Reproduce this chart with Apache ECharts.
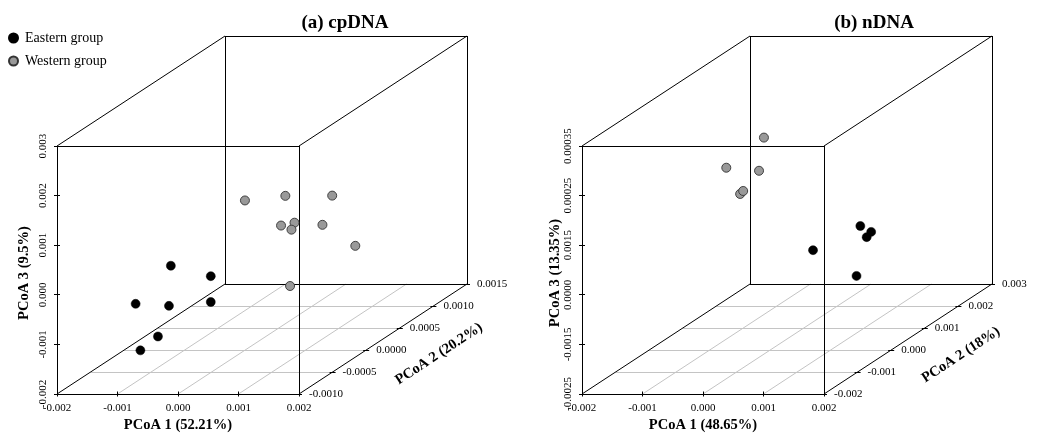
<!DOCTYPE html>
<html><head><meta charset="utf-8">
<script src="https://cdn.jsdelivr.net/npm/echarts@6/dist/echarts.min.js"></script>
<style>html,body{margin:0;padding:0;background:#fff}#c{width:1042px;height:436px}</style>
</head><body><div id="c"></div>
<script>
// ---------- Panel (a) cpDNA ----------
const aTitle = '(a) cpDNA';
const aAxisNames = ['PCoA 1 (52.21%)', 'PCoA 2 (20.2%)', 'PCoA 3 (9.5%)'];
const aXRange = [-0.002, 0.002];
const aYRange = [-0.001, 0.0015];
const aZRange = [-0.002, 0.003];
const aXTicks = ['-0.002', '-0.001', '0.000', '0.001', '0.002'];
const aYTicks = ['-0.0010', '-0.0005', '0.0000', '0.0005', '0.0010', '0.0015'];
const aZTicks = ['-0.002', '-0.001', '0.000', '0.001', '0.002', '0.003'];
// [PCoA1, PCoA2, PCoA3]
const aEastern = [
  [-0.00134, 0.0001, -0.00039],
  [-0.00068, 0.0001, -0.0006],
  [-0.0017, -0.0001, -0.00098],
  [-0.00126, 0.0, -0.00111],
  [-0.00068, 0.0001, -0.00112],
  [-0.00122, -0.0002, -0.00155],
  [-0.00151, -0.0002, -0.00183]
];
const aWestern = [
  [0.00044, -0.0004, 0.00137],
  [0.00133, -0.0006, 0.00164],
  [0.00166, -0.0002, 0.00129],
  [0.00137, -0.0007, 0.00113],
  [0.00137, -0.0005, 0.00101],
  [0.00132, -0.0005, 0.00087],
  [0.00161, -0.0003, 0.00079],
  [0.00182, 0.0, 0.0001],
  [0.00163, -0.0008, 0.0]
];

// ---------- Panel (b) nDNA ----------
const bTitle = '(b) nDNA';
const bAxisNames = ['PCoA 1 (48.65%)', 'PCoA 2 (18%)', 'PCoA 3 (13.35%)'];
const bXRange = [-0.002, 0.002];
const bYRange = [-0.002, 0.003];
const bZRange = [-0.0025, 0.0025];
const bXTicks = ['-0.002', '-0.001', '0.000', '0.001', '0.002'];
const bYTicks = ['-0.002', '-0.001', '0.000', '0.001', '0.002', '0.003'];
const bZTicks = ['-0.0025', '-0.0015', '0.0000', '0.0015', '0.00025', '0.00035'];
const bEastern = [
  [0.00149, 0.0, 0.0],
  [0.00178, -0.0002, -0.00003],
  [0.00165, -0.0001, -0.00018],
  [0.00093, -0.0004, -0.00031],
  [0.00176, -0.0006, -0.00074]
];
const bWestern = [
  [-0.00077, 0.0012, 0.00125],
  [-0.00117, 0.0008, 0.00082],
  [-0.00074, 0.001, 0.00067],
  [-0.00083, 0.0006, 0.00038],
  [-0.00078, 0.0006, 0.00044]
];

// ---------- layout (oblique projection) ----------
const FW = 242, FH = 248, OX = 168, OY = 110;
const DX = OX / FW, DY = OY / FH;
const SERIF = '"Liberation Serif", "Times New Roman", serif';

const panels = [
  {title: aTitle, names: aAxisNames, xr: aXRange, yr: aYRange, zr: aZRange,
   xt: aXTicks, yt: aYTicks, zt: aZTicks, east: aEastern, west: aWestern,
   left: 57, titleX: 340, zTitleOff: 33, yTitleOff: [56, 15]},
  {title: bTitle, names: bAxisNames, xr: bXRange, yr: bYRange, zr: bZRange,
   xt: bXTicks, yt: bYTicks, zt: bZTicks, east: bEastern, west: bWestern,
   left: 582, titleX: 869, zTitleOff: 27, yTitleOff: [53, 16]}
];

function proj(p, x, y, z) {
  const xn = (x - p.xr[0]) / (p.xr[1] - p.xr[0]);
  const yn = (y - p.yr[0]) / (p.yr[1] - p.yr[0]);
  const zn = (z - p.zr[0]) / (p.zr[1] - p.zr[0]);
  return [xn + yn * DX, zn + yn * DY];
}
function tickVals(r, labels) {
  return labels.map((_, i) => r[0] + i * (r[1] - r[0]) / (labels.length - 1));
}
function crisp(v) { return Math.round(v - 0.5) + 0.5; }

function frameSeries(p, idx) {
  return {
    type: 'custom', xAxisIndex: idx, yAxisIndex: idx, data: [0], silent: true, z: 1,
    clip: false,
    renderItem: function (params, api) {
      const P = (x, y, z) => api.coord(proj(p, x, y, z));
      const ch = [];
      const line = (a, b, color, w) => {
        let x1 = a[0], y1 = a[1], x2 = b[0], y2 = b[1];
        if (Math.abs(y1 - y2) < 0.01) { y1 = y2 = crisp(y1); }
        if (Math.abs(x1 - x2) < 0.01) { x1 = x2 = crisp(x1); }
        ch.push({type: 'line', shape: {x1, y1, x2, y2},
          style: {stroke: color, lineWidth: w}});
      };
      const text = (pt, str, opts) => ch.push({type: 'text', x: pt[0], y: pt[1],
        rotation: opts.rot || 0,
        style: {text: str, fill: '#000', font: opts.font,
          align: opts.align || 'center', verticalAlign: 'middle'}});
      const [x0, x1] = p.xr, [y0, y1] = p.yr, [z0, z1] = p.zr;
      const xv = tickVals(p.xr, p.xt), yv = tickVals(p.yr, p.yt), zv = tickVals(p.zr, p.zt);
      const grey = '#c4c4c4';
      // floor grid
      yv.slice(1, -1).forEach(v => line(P(x0, v, z0), P(x1, v, z0), grey, 1));
      xv.slice(1, -1).forEach(v => line(P(v, y0, z0), P(v, y1, z0), grey, 1));
      // cube edges
      const k = '#000';
      line(P(x0, y0, z0), P(x1, y0, z0), k, 1);
      line(P(x0, y0, z1), P(x1, y0, z1), k, 1);
      line(P(x0, y0, z0), P(x0, y0, z1), k, 1);
      line(P(x1, y0, z0), P(x1, y0, z1), k, 1);
      line(P(x0, y1, z0), P(x1, y1, z0), k, 1);
      line(P(x0, y1, z1), P(x1, y1, z1), k, 1);
      line(P(x0, y1, z0), P(x0, y1, z1), k, 1);
      line(P(x1, y1, z0), P(x1, y1, z1), k, 1);
      line(P(x0, y0, z0), P(x0, y1, z0), k, 1);
      line(P(x0, y0, z1), P(x0, y1, z1), k, 1);
      line(P(x1, y0, z1), P(x1, y1, z1), k, 1);
      line(P(x1, y0, z0), P(x1, y1, z0), k, 1);
      const tf = '11px ' + SERIF;
      const bf = 'bold 14.5px ' + SERIF;
      // x ticks & labels
      xv.forEach((v, i) => {
        const c = P(v, y0, z0);
        line([c[0], c[1] - 2.5], [c[0], c[1] + 2.5], k, 1);
        text([c[0], c[1] + 14], p.xt[i], {font: tf});
      });
      // z ticks & labels
      zv.forEach((v, i) => {
        const c = P(x0, y0, v);
        line([c[0] - 3, c[1]], [c[0] + 3, c[1]], k, 1);
        text([c[0] - 14, c[1]], p.zt[i], {font: tf, rot: Math.PI / 2});
      });
      // y ticks & labels
      yv.forEach((v, i) => {
        const c = P(x1, v, z0);
        line([c[0] - 3, c[1]], [c[0] + 3, c[1]], k, 1);
        text([c[0] + 10, c[1]], p.yt[i], {font: tf, align: 'left'});
      });
      // axis titles
      const bm = P((x0 + x1) / 2, y0, z0);
      text([bm[0], bm[1] + 31], p.names[0], {font: bf});
      const lm = P(x0, y0, (z0 + z1) / 2);
      text([lm[0] - p.zTitleOff, lm[1] + 3], p.names[2], {font: bf, rot: Math.PI / 2});
      const rm = P(x1, (y0 + y1) / 2, z0);
      text([rm[0] + p.yTitleOff[0], rm[1] + p.yTitleOff[1]], p.names[1],
        {font: bf, rot: Math.atan2(OY, OX)});
      return {type: 'group', children: ch};
    }
  };
}

const grids = [], xAxes = [], yAxes = [], series = [], titles = [];
panels.forEach((p, i) => {
  grids.push({left: p.left, top: 394 - (FH + OY), width: FW + OX, height: FH + OY});
  xAxes.push({type: 'value', gridIndex: i, min: 0, max: 1 + DX, show: false});
  yAxes.push({type: 'value', gridIndex: i, min: 0, max: 1 + DY, show: false});
  titles.push({text: p.title, left: p.titleX, top: 9, textAlign: 'center',
    textStyle: {fontFamily: SERIF, fontSize: 19, fontWeight: 'bold', color: '#000'}});
  series.push(frameSeries(p, i));
  series.push({type: 'scatter', name: 'Eastern group', xAxisIndex: i, yAxisIndex: i, z: 5,
    symbol: 'circle', symbolSize: 9,
    itemStyle: {color: '#000', borderColor: '#000', borderWidth: 0.5, opacity: 1},
    data: p.east.map(d => proj(p, d[0], d[1], d[2]))});
  series.push({type: 'scatter', name: 'Western group', xAxisIndex: i, yAxisIndex: i, z: 5,
    symbol: 'circle', symbolSize: 9,
    itemStyle: {color: '#999999', borderColor: '#333', borderWidth: 0.9, opacity: 1},
    data: p.west.map(d => proj(p, d[0], d[1], d[2]))});
});

const chart = echarts.init(document.getElementById('c'), null, {renderer: 'canvas'});
chart.setOption({
  animation: false,
  backgroundColor: '#fff',
  title: titles,
  legend: {data: ['Eastern group', 'Western group'], orient: 'vertical', left: 3, top: 26,
    itemWidth: 13, itemHeight: 9, itemGap: 9, icon: 'circle',
    textStyle: {fontFamily: SERIF, fontSize: 14, color: '#000'}},
  grid: grids, xAxis: xAxes, yAxis: yAxes, series: series
});
</script></body></html>
